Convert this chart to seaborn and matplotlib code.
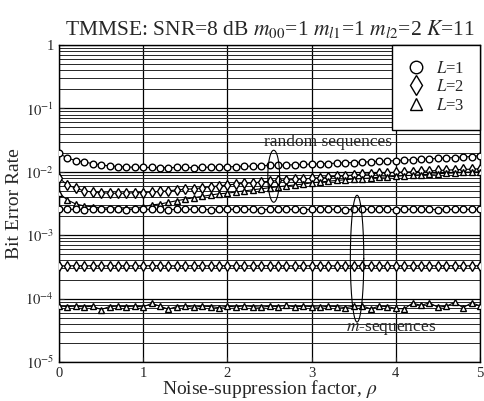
import numpy as np
import pandas as pd
import matplotlib
matplotlib.use("Agg")
import matplotlib.pyplot as plt
import seaborn as sns
from matplotlib.lines import Line2D
from matplotlib.ticker import LogLocator, FixedLocator, FuncFormatter, NullFormatter

# ---------------- data ----------------
rho = [round(0.1 * i, 1) for i in range(51)]

rand_L1 = [0.0195, 0.0165, 0.0150, 0.0142, 0.0135, 0.0128, 0.0124, 0.0121, 0.0119, 0.0118,
           0.0117, 0.0117, 0.0116, 0.0116, 0.0117, 0.0117, 0.0116, 0.0118, 0.0118, 0.0120,
           0.0120, 0.0121, 0.0122, 0.0123, 0.0125, 0.0126, 0.0127, 0.0128, 0.0129, 0.0131,
           0.0132, 0.0133, 0.0135, 0.0137, 0.0139, 0.0140, 0.0142, 0.0144, 0.0146, 0.0148,
           0.0150, 0.0153, 0.0155, 0.0158, 0.0160, 0.0163, 0.0165, 0.0168, 0.0171, 0.0174,
           0.0180]
rand_L2 = [0.0080, 0.0062, 0.0055, 0.0050, 0.0048, 0.0047, 0.0046, 0.0046, 0.0046, 0.0047,
           0.0047, 0.0048, 0.0049, 0.0050, 0.0052, 0.0053, 0.0054, 0.0056, 0.0058, 0.0060,
           0.0062, 0.0064, 0.0066, 0.0067, 0.0069, 0.0071, 0.0073, 0.0074, 0.0076, 0.0077,
           0.0079, 0.0081, 0.0083, 0.0085, 0.0087, 0.0089, 0.0091, 0.0093, 0.0095, 0.0097,
           0.0098, 0.0099, 0.0100, 0.0102, 0.0103, 0.0105, 0.0106, 0.0108, 0.0109, 0.0110,
           0.0112]
rand_L3 = [0.0046, 0.0036, 0.0031, 0.0029, 0.0028, 0.0027, 0.0027, 0.0027, 0.0027, 0.0027,
           0.0028, 0.0030, 0.0031, 0.0033, 0.0035, 0.0037, 0.0039, 0.0041, 0.0043, 0.0045,
           0.0046, 0.0048, 0.0050, 0.0052, 0.0054, 0.0056, 0.0058, 0.0060, 0.0062, 0.0064,
           0.0067, 0.0069, 0.0071, 0.0073, 0.0075, 0.0077, 0.0078, 0.0080, 0.0082, 0.0083,
           0.0085, 0.0087, 0.0088, 0.0090, 0.0091, 0.0093, 0.0095, 0.0096, 0.0098, 0.0099,
           0.0100]
mseq_L1 = [0.00255, 0.00256, 0.00255, 0.00254, 0.00255, 0.00256, 0.00255, 0.00255, 0.00254, 0.00255,
           0.00256, 0.00255, 0.00255, 0.00254, 0.00255, 0.00255, 0.00256, 0.00255, 0.00254, 0.00255,
           0.00255, 0.00256, 0.00255, 0.00255, 0.00254, 0.00255, 0.00256, 0.00255, 0.00255, 0.00254,
           0.00255, 0.00255, 0.00256, 0.00255, 0.00254, 0.00255, 0.00255, 0.00256, 0.00255, 0.00255,
           0.00254, 0.00255, 0.00256, 0.00255, 0.00255, 0.00254, 0.00255, 0.00255, 0.00256, 0.00255,
           0.00255]
mseq_L2 = [3.30e-4, 3.28e-4, 3.31e-4, 3.29e-4, 3.30e-4, 3.27e-4, 3.30e-4, 3.31e-4, 3.28e-4, 3.30e-4,
           3.29e-4, 3.31e-4, 3.30e-4, 3.28e-4, 3.30e-4, 3.29e-4, 3.31e-4, 3.30e-4, 3.28e-4, 3.30e-4,
           3.31e-4, 3.29e-4, 3.30e-4, 3.28e-4, 3.30e-4, 3.31e-4, 3.29e-4, 3.30e-4, 3.28e-4, 3.30e-4,
           3.29e-4, 3.31e-4, 3.30e-4, 3.28e-4, 3.30e-4, 3.29e-4, 3.31e-4, 3.30e-4, 3.28e-4, 3.30e-4,
           3.31e-4, 3.29e-4, 3.30e-4, 3.28e-4, 3.30e-4, 3.29e-4, 3.31e-4, 3.30e-4, 3.28e-4, 3.30e-4,
           3.30e-4]
mseq_L3 = [7.6e-5, 7.5e-5, 7.6e-5, 7.4e-5, 7.6e-5, 6.7e-5, 7.5e-5, 7.6e-5, 7.5e-5, 7.6e-5,
           7.4e-5, 8.4e-5, 7.6e-5, 6.8e-5, 7.5e-5, 7.7e-5, 7.3e-5, 7.6e-5, 7.5e-5, 7.2e-5,
           7.6e-5, 7.4e-5, 7.7e-5, 7.5e-5, 7.3e-5, 7.6e-5, 7.5e-5, 7.8e-5, 7.4e-5, 7.6e-5,
           7.5e-5, 7.3e-5, 7.6e-5, 7.5e-5, 7.2e-5, 7.6e-5, 7.7e-5, 6.9e-5, 7.6e-5, 7.5e-5,
           7.0e-5, 6.9e-5, 8.5e-5, 7.8e-5, 8.6e-5, 7.3e-5, 7.6e-5, 8.7e-5, 7.2e-5, 8.6e-5,
           7.7e-5]

series = [
    (rand_L1, "o"), (rand_L2, "d"), (rand_L3, "^"),
    (mseq_L1, "o"), (mseq_L2, "d"), (mseq_L3, "^"),
]

legend_labels = ["$L$=1", "$L$=2", "$L$=3"]
legend_markers = ["o", "d", "^"]
x_ticks = [0, 1, 2, 3, 4, 5]
title = "TMMSE: SNR=8 dB $m_{00}$=1 $m_{l1}$=1 $m_{l2}$=2 $K$=11"

# ---------------- style ----------------
sns.set_style("ticks")
plt.rcParams["font.family"] = ["Liberation Serif", "DejaVu Serif"]
plt.rcParams["mathtext.fontset"] = "stix"

fig = plt.figure(figsize=(4.84, 4.01), dpi=100)
ax = fig.add_axes([59 / 484, 1 - 362 / 401, (480 - 59) / 484, (362 - 45) / 401])

for vals, mk in series:
    df = pd.DataFrame({"rho": rho, "ber": vals})
    sns.lineplot(data=df, x="rho", y="ber", ax=ax, color="black", linewidth=0.8,
                 marker=mk, markersize=4.8 if mk != "d" else 5.2,
                 markerfacecolor="white", markeredgecolor="black",
                 markeredgewidth=1.0, legend=False, zorder=3)

ax.set_yscale("log")
ax.set_xlim(0, 5)
ax.set_ylim(1e-5, 1)

ax.xaxis.set_major_locator(FixedLocator(x_ticks))
ax.yaxis.set_major_locator(LogLocator(base=10, numticks=10))
ax.yaxis.set_minor_locator(LogLocator(base=10, subs=np.arange(2, 10), numticks=20))
ax.yaxis.set_minor_formatter(NullFormatter())


def fmt(v, pos):
    e = int(round(np.log10(v)))
    return "1" if e == 0 else r"$10^{%d}$" % e


ax.yaxis.set_major_formatter(FuncFormatter(fmt))
ax.tick_params(axis="both", which="both", direction="in", labelsize=10.5)
ax.tick_params(axis="y", which="minor", length=2)

ax.grid(True, which="major", color="black", linewidth=0.9)
ax.grid(True, which="minor", axis="y", color="0.15", linewidth=0.7)
for sp in ax.spines.values():
    sp.set_color("black")
    sp.set_linewidth(1.0)

ax.set_xlabel(r"Noise-suppression factor, $\rho$", fontsize=14, labelpad=-1)
ax.set_ylabel("Bit Error Rate", fontsize=14, labelpad=2)
ax.set_title(title, fontsize=15.5, pad=7)

# ellipses (annotations)
t = np.linspace(0, 2 * np.pi, 200)
for cx, w, ly0, ly1 in [(2.55, 0.07, -1.66, -2.48), (3.54, 0.08, -2.37, -4.37)]:
    cy = (ly0 + ly1) / 2
    h = (ly0 - ly1) / 2
    ax.plot(cx + w * np.cos(t), 10 ** (cy + h * np.sin(t)), color="black", lw=0.8, zorder=4)

ax.text(3.2, 10 ** -1.53, "random sequences", ha="center", va="center", fontsize=12.5,
        zorder=5)
ax.text(3.94, 10 ** -4.48, "$m$-sequences", ha="center", va="center", fontsize=12.5,
        zorder=5)

handles = [Line2D([], [], linestyle="none", marker=m, markersize=9 if m != "d" else 10,
                  markerfacecolor="white", markeredgecolor="black", markeredgewidth=1.0)
           for m in legend_markers]
leg = ax.legend(handles, legend_labels, loc="upper right", fontsize=12, frameon=True,
                fancybox=False, borderaxespad=0.0, handletextpad=0.7, labelspacing=0.15,
                borderpad=0.95, handlelength=1.0)
leg.get_frame().set_edgecolor("black")
leg.get_frame().set_linewidth(1.0)
leg.get_frame().set_alpha(1.0)
leg.set_zorder(10)

fig.savefig("out.png", dpi=100)
